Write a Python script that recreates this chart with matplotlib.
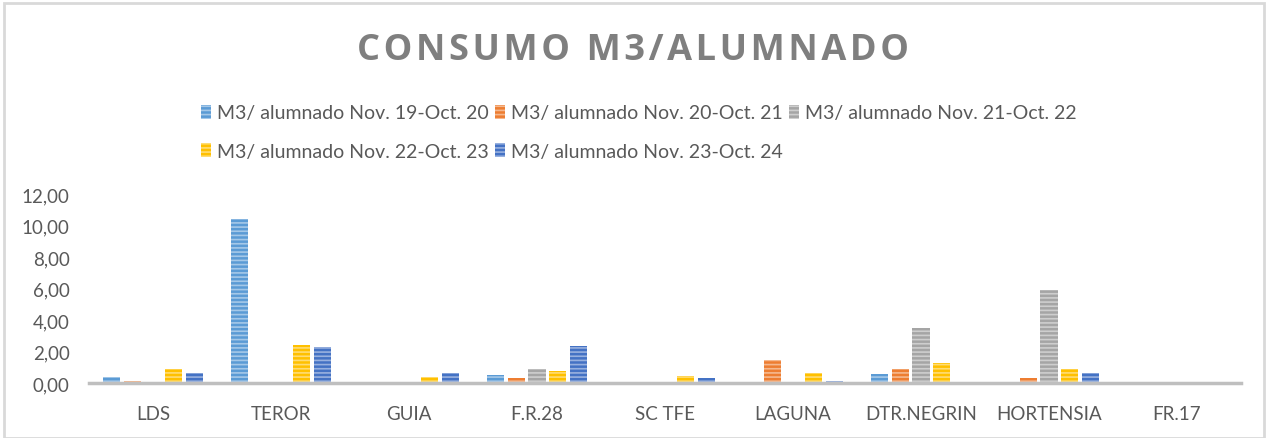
import matplotlib.pyplot as plt
import matplotlib.colors as mcolors
import numpy as np

categories = ['LDS', 'TEROR', 'GUIA', 'F.R.28', 'SC TFE', 'LAGUNA', 'DTR.NEGRIN', 'HORTENSIA', 'FR.17']
series_names = ['M3/ alumnado Nov. 19-Oct. 20', 'M3/ alumnado Nov. 20-Oct. 21',
                'M3/ alumnado Nov. 21-Oct. 22', 'M3/ alumnado Nov. 22-Oct. 23',
                'M3/ alumnado Nov. 23-Oct. 24']
s19_20 = [0.36, 10.42, 0.00, 0.50, 0.00, 0.08, 0.59, 0.00, 0.00]
s20_21 = [0.15, 0.00, 0.00, 0.30, 0.00, 1.43, 0.86, 0.30, 0.00]
s21_22 = [0.00, 0.00, 0.00, 0.86, 0.00, 0.00, 3.52, 5.89, 0.00]
s22_23 = [0.92, 2.43, 0.36, 0.74, 0.42, 0.65, 1.24, 0.86, 0.00]
s23_24 = [0.61, 2.31, 0.61, 2.37, 0.30, 0.15, 0.00, 0.65, 0.00]
y_ticks = [0, 2, 4, 6, 8, 10, 12]

series = [s19_20, s20_21, s21_22, s22_23, s23_24]
colors = ['#5B9BD5', '#ED7D31', '#A5A5A5', '#FFC000', '#4472C4']

plt.rcParams['font.family'] = ['Lato', 'DejaVu Sans']
plt.rcParams['hatch.linewidth'] = 1.2

W, H = 1270, 439
fig = plt.figure(figsize=(W / 100, H / 100), dpi=100)
ax = fig.add_axes([89 / W, 55 / H, (1241 - 89) / W, (384 - 195) / H])

x = np.arange(len(categories))
pitch = 0.162
width = 0.133
handles = []
for i, (vals, c) in enumerate(zip(series, colors)):
    light = mcolors.to_hex([0.55 * v + 0.45 for v in mcolors.to_rgb(c)])
    pos = x + (i - 2) * pitch
    b = ax.bar(pos, vals, width, color=c, label=series_names[i],
               hatch='----', edgecolor=light, linewidth=0)
    handles.append(b)

ax.set_xlim(-0.5, len(categories) - 0.5)
ax.set_ylim(0, 12)
ax.set_yticks(y_ticks)
ax.set_yticklabels([f'{v:.2f}'.replace('.', ',') for v in y_ticks])
ax.set_xticks(x)
ax.set_xticklabels(categories)
for s in ['top', 'right', 'left']:
    ax.spines[s].set_visible(False)
ax.spines['bottom'].set_color('#BFBFBF')
ax.spines['bottom'].set_linewidth(2.5)
ax.tick_params(axis='both', length=0, labelsize=13.5, colors='#595959')
ax.tick_params(axis='y', pad=14)
ax.tick_params(axis='x', pad=16)

# letter-spaced title, like the original chart
title = '\u200a'.join('CONSUMO M3/ALUMNADO')
fig.text(0.4985, 1 - 51.5 / H, title, ha='center', va='center',
         fontsize=26, fontweight='bold', color='#7F7F7F', family=['Open Sans', 'DejaVu Sans'])

# row-major order for a 3-column legend
order = [0, 3, 1, 4, 2]
fig.legend([handles[k] for k in order], [series_names[k] for k in order],
           loc='upper left', bbox_to_anchor=(183 / W, 1 - 88 / H), ncol=3, frameon=False,
           fontsize=14, handlelength=0.55, handleheight=0.7, handletextpad=0.3,
           columnspacing=0.3, labelspacing=1.1, labelcolor='#595959')

# chart border
fig.patches.append(plt.Rectangle((4 / W, 0), (1264 - 4) / W, 1 - 4 / H, transform=fig.transFigure,
                                 fill=False, edgecolor='#D9D9D9', linewidth=2))

fig.savefig('out.png', dpi=100)
